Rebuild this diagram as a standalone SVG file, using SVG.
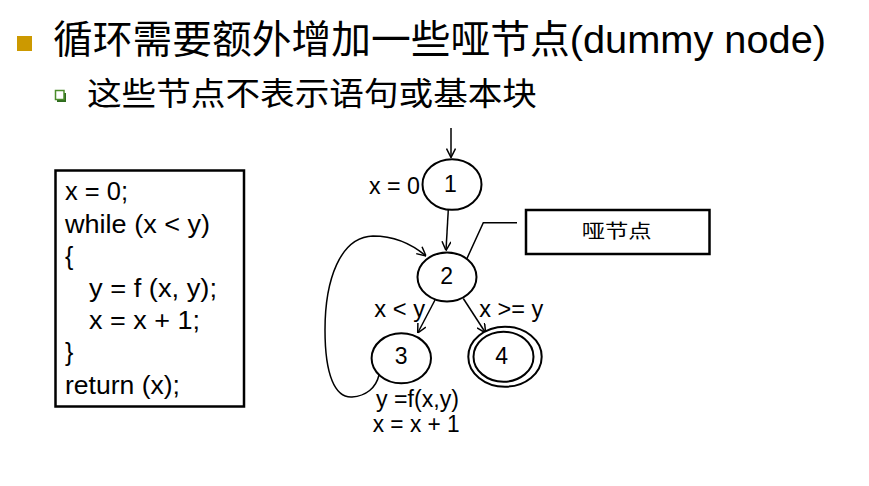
<svg xmlns="http://www.w3.org/2000/svg" width="869" height="486" viewBox="0 0 869 486">
<style>
text { font-family: "Liberation Sans", "Noto Sans CJK SC", sans-serif; fill: #000; }
.code { font-size: 25px; }
.lbl { font-size: 23px; }
.num { font-size: 23px; text-anchor: middle; }
.node { fill: #fff; stroke: #000; stroke-width: 2; }
.edge { fill: none; stroke: #000; stroke-width: 1.5; }
</style>
<defs>
<marker id="arr" viewBox="0 0 10 10" refX="10" refY="5" markerWidth="10" markerHeight="10" markerUnits="userSpaceOnUse" orient="auto">
<path d="M1,0.5 L10,5 L1,9.5" fill="none" stroke="#000" stroke-width="1.5"/>
</marker>
</defs>
<rect width="869" height="486" fill="#fff"/>

<g id="title">
<rect x="17" y="36" width="15" height="15" fill="#CC9900"/>
<text x="53" y="53" font-size="39" textLength="773" lengthAdjust="spacingAndGlyphs">循环需要额外增加一些哑节点(dummy node)</text>
<polyline points="57,101 65,101 65,93" fill="none" stroke="#2E6B1E" stroke-width="2"/>
<rect x="55.5" y="90.5" width="8.5" height="9" fill="#fff" stroke="#4C8C2C" stroke-width="1.5"/>
<text x="87" y="104.5" font-size="32" textLength="450" lengthAdjust="spacingAndGlyphs">这些节点不表示语句或基本块</text>
</g>

<g id="code">
<rect x="55.5" y="170.5" width="188.5" height="236" fill="#fff" stroke="#000" stroke-width="2.5"/>
<text class="code" x="65" y="200" textLength="63" lengthAdjust="spacingAndGlyphs">x = 0;</text>
<text class="code" x="65" y="232.5" textLength="145" lengthAdjust="spacingAndGlyphs">while (x &lt; y)</text>
<text class="code" x="65" y="264.5">{</text>
<text class="code" x="89" y="297" textLength="128" lengthAdjust="spacingAndGlyphs">y = f (x, y);</text>
<text class="code" x="89" y="329" textLength="111" lengthAdjust="spacingAndGlyphs">x = x + 1;</text>
<text class="code" x="65" y="361">}</text>
<text class="code" x="65" y="393.5" textLength="115" lengthAdjust="spacingAndGlyphs">return (x);</text>
</g>

<g id="connectors">
<line class="edge" x1="451" y1="128" x2="451" y2="157.5" marker-end="url(#arr)"/>
<line class="edge" x1="448.3" y1="209.5" x2="446" y2="250.5" marker-end="url(#arr)"/>
<line class="edge" x1="435" y1="300" x2="417.7" y2="333" marker-end="url(#arr)"/>
<line class="edge" x1="463.3" y1="298.5" x2="485.7" y2="333" marker-end="url(#arr)"/>
<path class="edge" d="M379,375 C376,388 366,396 352,397 C335,398 325,375 325,330 C325,280 340,237 373,236 C395,236 413,245 426,256" marker-end="url(#arr)"/>
<polyline class="edge" points="517,222.7 483.3,222.7 461.7,270"/>
</g>

<g id="node1">
<ellipse class="node" cx="452" cy="184.5" rx="29.5" ry="25.3"/>
<text class="num" x="450.5" y="191.5">1</text>
<text class="lbl" x="369" y="194" textLength="51" lengthAdjust="spacingAndGlyphs">x = 0</text>
</g>

<g id="node2">
<ellipse class="node" cx="447" cy="277" rx="29.5" ry="24.5"/>
<text class="num" x="446.7" y="284.3">2</text>
</g>

<g id="node3">
<ellipse class="node" cx="401.3" cy="358.3" rx="29.7" ry="25"/>
<text class="num" x="401.2" y="364.3">3</text>
<text class="lbl" x="376" y="406.7" textLength="83" lengthAdjust="spacingAndGlyphs">y =f(x,y)</text>
<text class="lbl" x="372.7" y="432.3" textLength="87" lengthAdjust="spacingAndGlyphs">x = x + 1</text>
</g>

<g id="node4">
<ellipse class="node" cx="505" cy="356.7" rx="36.7" ry="30"/>
<ellipse class="node" cx="503.5" cy="356.7" rx="30" ry="25"/>
<text class="num" x="501.7" y="364.3">4</text>
</g>

<g id="edge-labels">
<text class="lbl" x="374.3" y="316.7" textLength="50.7" lengthAdjust="spacingAndGlyphs">x &lt; y</text>
<text class="lbl" x="479.3" y="316.7" textLength="64" lengthAdjust="spacingAndGlyphs">x &gt;= y</text>
</g>

<g id="callout">
<rect x="526" y="210" width="183.5" height="44" fill="#fff" stroke="#000" stroke-width="2.5"/>
<text x="581.7" y="238" font-size="19" textLength="70" lengthAdjust="spacingAndGlyphs">哑节点</text>
</g>
</svg>
